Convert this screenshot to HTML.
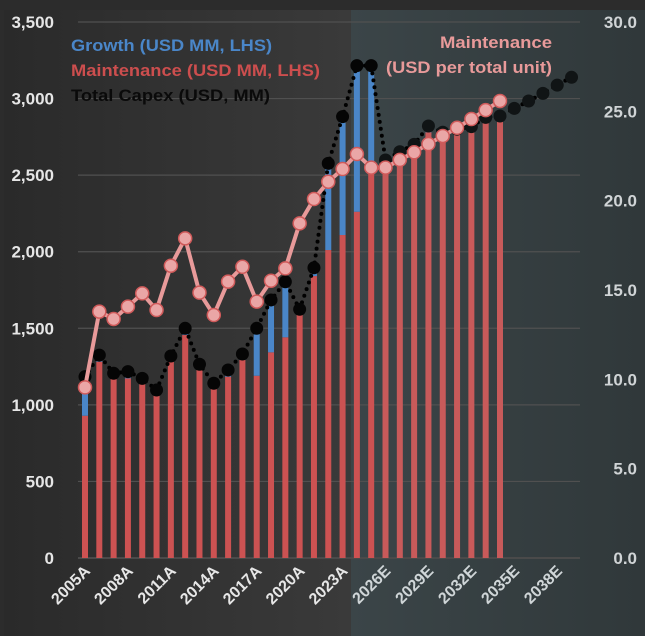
<!DOCTYPE html>
<html><head><meta charset="utf-8"><style>
body{margin:0;background:#2b2b2b}
svg{display:block;font-family:"Liberation Sans",sans-serif;font-weight:bold}
</style></head><body>
<svg id="c" width="645" height="636">
<defs>
<linearGradient id="bgL" x1="0" x2="1" y1="0" y2="0"><stop offset="0" stop-color="#2a2a2a"/><stop offset="1" stop-color="#3a3a3a"/></linearGradient>
<linearGradient id="bgR" x1="0" x2="1" y1="0" y2="0"><stop offset="0" stop-color="#3b4548"/><stop offset="1" stop-color="#30383a"/></linearGradient>
</defs>
<rect x="0" y="0" width="645" height="636" fill="#2c2c2c"/>
<rect x="4" y="10" width="347" height="626" fill="url(#bgL)"/>
<rect x="351" y="10" width="294" height="626" fill="url(#bgR)"/>
<g id="grid"></g><g id="bars"></g><g id="lines"></g><g id="axes"></g>
<g>
<text x="71" y="51" fill="#4a86c8" font-size="17" textLength="201" lengthAdjust="spacingAndGlyphs">Growth (USD MM, LHS)</text>
<text x="71" y="76" fill="#cc4e4e" font-size="17" textLength="249" lengthAdjust="spacingAndGlyphs">Maintenance (USD MM, LHS)</text>
<text x="71" y="101" fill="#0a0a0a" font-size="17" textLength="199" lengthAdjust="spacingAndGlyphs">Total Capex (USD, MM)</text>
<text x="440" y="48" fill="#e89a9a" font-size="17" textLength="112" lengthAdjust="spacingAndGlyphs">Maintenance</text>
<text x="386" y="73" fill="#e89a9a" font-size="17" textLength="166" lengthAdjust="spacingAndGlyphs">(USD per total unit)</text>
</g>
</svg>
<script>
const years=[2005,2006,2007,2008,2009,2010,2011,2012,2013,2014,2015,2016,2017,2018,2019,2020,2021,2022,2023,2024,2025,2026,2027,2028,2029,2030,2031,2032,2033,2034,2035,2036,2037,2038,2039];
const total=[1184,1325,1206,1217,1173,1097,1319,1500,1265,1141,1228,1332,1500,1685,1804,1624,1895,2577,2882,3215,3215,2599,2653,2701,2821,2780,2800,2817,2877,2886,2936,2984,3034,3088,3139];
const maintenance=[929,1282,1173,1173,1141,1064,1282,1456,1228,1108,1184,1293,1190,1343,1441,1587,1841,2011,2109,2261,2560,2570,2630,2680,2780,2760,2780,2800,2860,2870];
const perUnit=[9.55,13.79,13.38,14.07,14.81,13.88,16.36,17.89,14.85,13.6,15.47,16.3,14.35,15.52,16.21,18.73,20.09,21.06,21.77,22.61,21.85,21.85,22.28,22.71,23.17,23.62,24.08,24.57,25.07,25.58];
const leftTicks=["0","500","1,000","1,500","2,000","2,500","3,000","3,500"];
const rightTicks=["0.0","5.0","10.0","15.0","20.0","25.0","30.0"];
const NS="http://www.w3.org/2000/svg";
const y0=558,yTop=22,x0=85,dx=14.31;
const yL=v=>y0-v*(y0-yTop)/3500;
const yR=v=>y0-v*(y0-yTop)/30;
const xS=i=>x0+i*dx;
function mk(p,tag,a){const e=document.createElementNS(NS,tag);for(const k in a)e.setAttribute(k,a[k]);p.appendChild(e);return e;}
const g=document.getElementById('grid'),b=document.getElementById('bars'),l=document.getElementById('lines'),ax=document.getElementById('axes');
leftTicks.forEach((t,i)=>{const y=yL(i*500);
 const ln=mk(g,'line',{x1:78,x2:580,y1:y,y2:y,stroke:i==0?'#4a4a4a':'#505050','stroke-width':i==0?2:1.2});
 
 
 const tx=mk(ax,'text',{x:54,y:y+6,'text-anchor':'end',fill:'#e6e6e6','font-size':17});tx.textContent=t;
 
 });
rightTicks.forEach((t,i)=>{const y=yR(i*5);
 const tx=mk(ax,'text',{x:637,y:y+6,'text-anchor':'end',fill:'#d0d4d6','font-size':17});tx.textContent=t;
 
 });
years.forEach((yr,i)=>{if(i%3)return;const x=xS(i),y=572;
 const tx=mk(ax,'text',{x:x+6,y:y,'text-anchor':'end',fill:i>=21?'#d0d6d8':'#e6e6e6','font-size':16,transform:`rotate(-45 ${x+6} ${y})`});
 tx.textContent=yr+(yr<=2024?'A':'E');
 
 });
maintenance.forEach((m,i)=>{const x=xS(i)-3;
 const r=mk(b,'rect',{x:x,y:yL(m),width:6,height:y0-yL(m),fill:i>=21?'#c85a5a':'#cc5252'});
 
 
 const gr=total[i]-m;if(gr>0){const q=mk(b,'rect',{x:x,y:yL(total[i]),width:6,height:yL(m)-yL(total[i]),fill:'#4a86c8'});
 
 }});
const tp=mk(l,'polyline',{points:total.map((v,i)=>xS(i)+','+yL(v)).join(' '),fill:'none',stroke:'#000','stroke-width':4,'stroke-dasharray':'0 7','stroke-linecap':'round'});


total.forEach((v,i)=>{const c=mk(l,'circle',{cx:xS(i),cy:yL(v),r:6.5,fill:i>=21?'#101415':'#050505'});
 
 });
const pp=mk(l,'polyline',{points:perUnit.map((v,i)=>xS(i)+','+yR(v)).join(' '),fill:'none',stroke:'#e89a9a','stroke-width':4});


perUnit.forEach((v,i)=>{const c=mk(l,'circle',{cx:xS(i),cy:yR(v),r:6.5,fill:'#eaa6a6',stroke:'#d05a5a','stroke-width':1.5});
 
 });
</script>
</body></html>
